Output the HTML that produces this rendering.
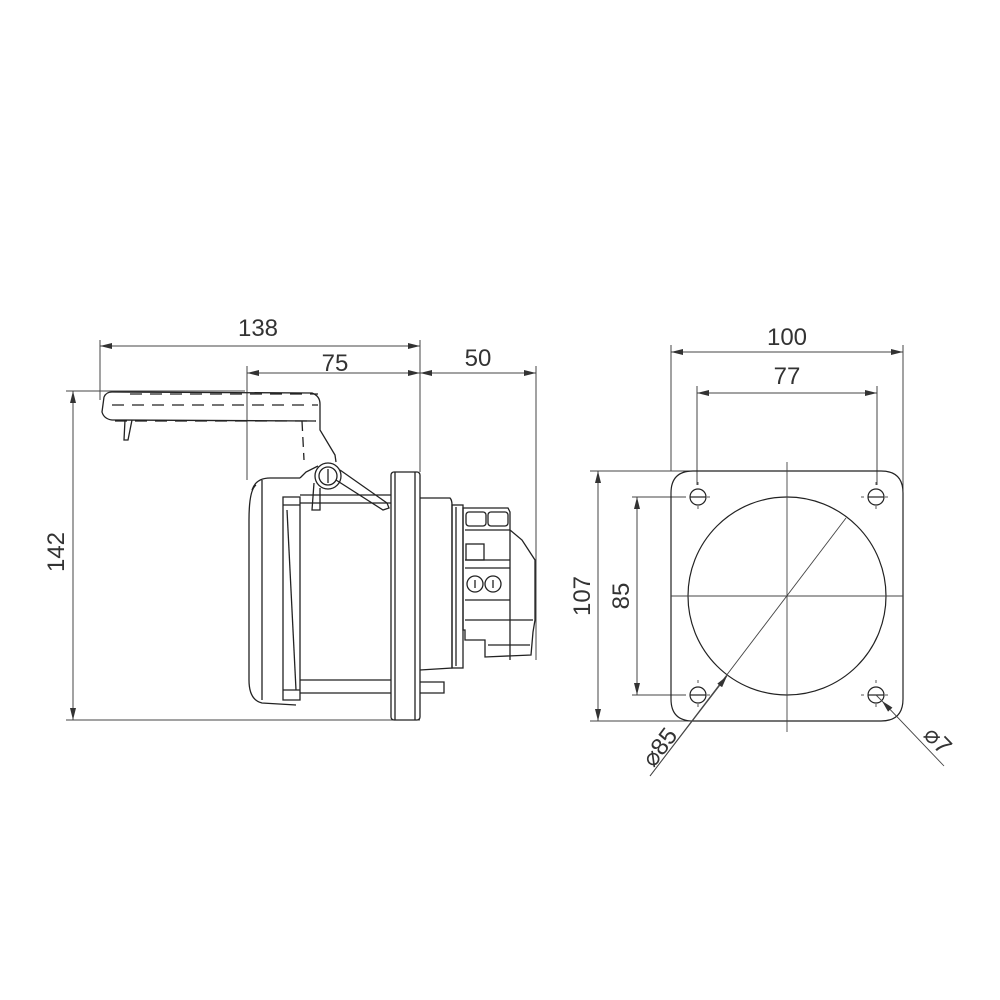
<!DOCTYPE html>
<html><head><meta charset="utf-8"><style>
html,body{margin:0;padding:0;background:#fff}
svg{display:block}
text{font-family:"Liberation Sans",sans-serif;font-size:24px;fill:#333}
</style></head><body>
<svg width="1000" height="1000" viewBox="0 0 1000 1000" xmlns="http://www.w3.org/2000/svg">
<defs>
<marker id="a" viewBox="0 0 12 6" refX="12" refY="3" markerWidth="12" markerHeight="6" orient="auto-start-reverse" markerUnits="userSpaceOnUse"><path d="M0,0 L12,3 L0,6z" fill="#333"/></marker>
</defs>
<g stroke="#444" stroke-width="1" fill="none">
<line x1="100" y1="340" x2="100" y2="400"/>
<line x1="247" y1="366" x2="247" y2="480"/>
<line x1="420" y1="340" x2="420" y2="472"/>
<line x1="536" y1="366" x2="536" y2="660"/>
<line x1="100" y1="346" x2="420" y2="346" marker-start="url(#a)" marker-end="url(#a)"/>
<line x1="247" y1="373" x2="420" y2="373" marker-start="url(#a)" marker-end="url(#a)"/>
<line x1="420" y1="373" x2="536" y2="373" marker-start="url(#a)" marker-end="url(#a)"/>
<line x1="66" y1="391" x2="245" y2="391"/>
<line x1="66" y1="720" x2="420" y2="720"/>
<line x1="73" y1="391" x2="73" y2="720" marker-start="url(#a)" marker-end="url(#a)"/>
</g>
<g stroke="#222" stroke-width="1.3" fill="none">
<path d="M104,397 Q106,392 112,392 L312,393 Q320,396 320,404 L320,430 L335,455 L336,462"/>
<path d="M104,397 L102,412 Q104,419 112,420 L316,421"/>
<path d="M125,420 L124,440 L128,440 L132,420"/>
<line x1="112" y1="405" x2="318" y2="405" stroke-dasharray="12,8"/>
<line x1="130" y1="394" x2="318" y2="394" stroke-dasharray="12,8"/>
<line x1="115" y1="421" x2="316" y2="421" stroke-dasharray="12,8"/>
<line x1="302" y1="421" x2="304" y2="460" stroke-dasharray="10,6"/>
<circle cx="328" cy="476" r="13"/>
<circle cx="328" cy="476" r="9"/>
<line x1="328" y1="469" x2="328" y2="483"/>
<path d="M340,470 L387,503 L389,508 L383,510 L336,480"/>
<path d="M314,483 L312,510 L320,510 L320,488"/>
<path d="M300,478 L306,472 L318,466"/>
<path d="M252,490 Q256,478 270,478 L292,478 L300,478"/>
<path d="M256,485 Q249,490 249,520 L249,680 Q249,700 262,703 L296,705"/>
<path d="M262,480 L262,700"/>
<path d="M283,497 L283,700 L300,700 L300,497 Z"/>
<line x1="283" y1="505" x2="300" y2="505"/>
<line x1="283" y1="690" x2="300" y2="690"/>
<line x1="287" y1="510" x2="296" y2="690"/>
<line x1="300" y1="495" x2="391" y2="495"/>
<line x1="300" y1="503" x2="391" y2="503"/>
<line x1="300" y1="680" x2="391" y2="680"/>
<line x1="300" y1="693" x2="391" y2="693"/>
<rect x="391" y="472" width="29" height="248" rx="3"/>
<line x1="395" y1="472" x2="395" y2="720"/>
<line x1="415" y1="472" x2="415" y2="720"/>
<path d="M420,498 L450,498 Q452,500 452,505 L452,668 L420,670"/>
<path d="M420,682 L444,682 L444,693 L420,693"/>
<rect x="452" y="505" width="11" height="163"/>
<line x1="456" y1="507" x2="456" y2="666"/>
<path d="M463,508 L508,508 L510,512 L510,530 L522,540 L535,560 L535,620 L533,632 L531,655 L485,657 L485,640 L465,640 L465,630 L463,630 Z"/>
<line x1="465" y1="530" x2="510" y2="530"/>
<line x1="465" y1="560" x2="510" y2="560"/>
<line x1="465" y1="568" x2="510" y2="568"/>
<rect x="466" y="544" width="18" height="16"/>
<rect x="466" y="512" width="20" height="14" rx="3"/>
<rect x="488" y="512" width="20" height="14" rx="3"/>
<circle cx="475" cy="584" r="8"/>
<circle cx="493" cy="584" r="8"/>
<line x1="475" y1="580" x2="475" y2="588"/>
<line x1="493" y1="580" x2="493" y2="588"/>
<line x1="465" y1="600" x2="510" y2="600"/>
<line x1="465" y1="620" x2="533" y2="620"/>
<line x1="510" y1="530" x2="510" y2="660"/>
<line x1="488" y1="645" x2="530" y2="645"/>
</g>
<text x="258" y="336" text-anchor="middle">138</text>
<text x="335" y="371" text-anchor="middle">75</text>
<text x="478" y="366" text-anchor="middle">50</text>
<text transform="translate(64,552) rotate(-90)" text-anchor="middle">142</text>

<g stroke="#444" stroke-width="1" fill="none">
<line x1="671" y1="345" x2="671" y2="471"/>
<line x1="903" y1="345" x2="903" y2="510"/>
<line x1="697" y1="386" x2="697" y2="485"/>
<line x1="877" y1="386" x2="877" y2="485"/>
<line x1="671" y1="352" x2="903" y2="352" marker-start="url(#a)" marker-end="url(#a)"/>
<line x1="697" y1="393" x2="877" y2="393" marker-start="url(#a)" marker-end="url(#a)"/>
<line x1="590" y1="471" x2="690" y2="471"/>
<line x1="590" y1="721" x2="690" y2="721"/>
<line x1="632" y1="497" x2="686" y2="497"/>
<line x1="632" y1="695" x2="686" y2="695"/>
<line x1="598" y1="471" x2="598" y2="721" marker-start="url(#a)" marker-end="url(#a)"/>
<line x1="637" y1="497" x2="637" y2="695" marker-start="url(#a)" marker-end="url(#a)"/>
</g>
<g stroke="#222" stroke-width="1.2" fill="none">
<path d="M693,471 L881,471 Q903,471 903,493 L903,699 Q903,721 881,721 L693,721 Q671,721 671,699 L671,493 Q671,471 693,471 Z"/>
<circle cx="787" cy="596" r="99"/>
<circle cx="698" cy="497" r="8"/>
<circle cx="876" cy="497" r="8"/>
<circle cx="698" cy="695" r="8"/>
<circle cx="876" cy="695" r="8"/>
<line x1="690" y1="497" x2="706" y2="497"/>
<line x1="868" y1="497" x2="884" y2="497"/>
<line x1="690" y1="695" x2="706" y2="695"/>
<line x1="868" y1="695" x2="884" y2="695"/>
</g>
<g stroke="#444" stroke-width="0.9" fill="none">
<line x1="787" y1="462" x2="787" y2="732"/>
<line x1="671" y1="596" x2="903" y2="596"/>
<g stroke-dasharray="3,3">
<line x1="683" y1="497" x2="689" y2="497"/><line x1="707" y1="497" x2="713" y2="497"/>
<line x1="698" y1="482" x2="698" y2="488"/><line x1="698" y1="506" x2="698" y2="512"/>
<line x1="861" y1="497" x2="867" y2="497"/><line x1="885" y1="497" x2="891" y2="497"/>
<line x1="876" y1="482" x2="876" y2="488"/><line x1="876" y1="506" x2="876" y2="512"/>
<line x1="683" y1="695" x2="689" y2="695"/><line x1="707" y1="695" x2="713" y2="695"/>
<line x1="698" y1="680" x2="698" y2="686"/><line x1="698" y1="704" x2="698" y2="710"/>
<line x1="861" y1="695" x2="867" y2="695"/><line x1="885" y1="695" x2="891" y2="695"/>
<line x1="876" y1="680" x2="876" y2="686"/><line x1="876" y1="704" x2="876" y2="710"/>
</g>
<line x1="846" y1="518" x2="650" y2="776"/>
<line x1="650" y1="776" x2="727" y2="676" marker-end="url(#a)"/>
<line x1="944" y1="766" x2="882" y2="701" marker-end="url(#a)"/>
<line x1="876" y1="695" x2="882" y2="701"/>
</g>
<text x="787" y="345" text-anchor="middle">100</text>
<text x="787" y="384" text-anchor="middle">77</text>
<text transform="translate(590,596) rotate(-90)" text-anchor="middle">107</text>
<text transform="translate(629,596) rotate(-90)" text-anchor="middle">85</text>
<text transform="translate(666,752) rotate(-53)" text-anchor="middle">⌀85</text>
<text transform="translate(932,746) rotate(46)" text-anchor="middle">⌀7</text>
</svg>
</body></html>
